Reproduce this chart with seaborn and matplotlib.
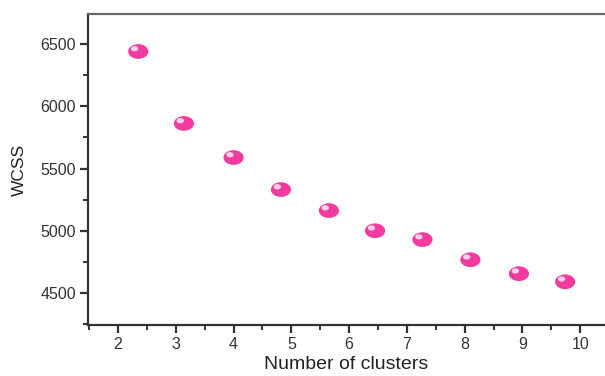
import numpy as np
import pandas as pd
import matplotlib
matplotlib.use("Agg")
import matplotlib.pyplot as plt
import matplotlib.transforms as mtransforms
from matplotlib.path import Path
from matplotlib.ticker import MultipleLocator
import seaborn as sns

clusters = [2.35, 3.14, 4.0, 4.82, 5.65, 6.45, 7.27, 8.1, 8.94, 9.74]
wcss = [6440, 5862, 5588, 5331, 5162, 5000, 4929, 4767, 4655, 4590]
x_ticks = [2, 3, 4, 5, 6, 7, 8, 9, 10]
y_ticks = [4500, 5000, 5500, 6000, 6500]

df = pd.DataFrame({"clusters": clusters, "wcss": wcss})

sns.set_theme(style="white")
plt.rcParams["font.family"] = ["Liberation Sans", "DejaVu Sans"]

fig = plt.figure(figsize=(6.05, 3.76), dpi=100)
ax = fig.add_axes([88 / 605, 51 / 376, 1 - 88 / 605, 311 / 376])

circ = Path.unit_circle()
ell = Path(circ.vertices * np.array([1.0, 0.73]), circ.codes)

sns.scatterplot(data=df, x="clusters", y="wcss", ax=ax, marker=ell, s=210,
                color="#f23a9f", edgecolor="none", linewidth=0, zorder=3)
hl = mtransforms.offset_copy(ax.transData, fig=fig, x=-2.6, y=2.0, units="points")
ax.scatter(df["clusters"], df["wcss"], marker=ell, s=28, color="#fbd0e8",
           edgecolor="none", transform=hl, zorder=4)

ax.set_xlim(1.48, 10.43)
ax.set_ylim(4243, 6741)
ax.set_xticks(x_ticks)
ax.set_yticks(y_ticks)
ax.xaxis.set_minor_locator(MultipleLocator(0.5))
ax.yaxis.set_minor_locator(MultipleLocator(250))

ax.set_xlabel("Number of clusters", fontsize=14, color="#222222", labelpad=3)
ax.set_ylabel("WCSS", fontsize=12.5, color="#222222", labelpad=10)

ax.tick_params(axis="both", which="major", direction="out", length=5.5, width=1.6,
               labelsize=11.5, colors="#333333", bottom=True, left=True, pad=3)
ax.tick_params(axis="both", which="minor", direction="out", length=3.5, width=1.4,
               colors="#333333", bottom=True, left=True)

for side in ["left", "bottom"]:
    ax.spines[side].set_color("#333333")
    ax.spines[side].set_linewidth(1.6)
ax.spines["top"].set_color("#666666")
ax.spines["top"].set_linewidth(1.6)
ax.spines["right"].set_visible(False)

fig.savefig("out.png", dpi=100)
